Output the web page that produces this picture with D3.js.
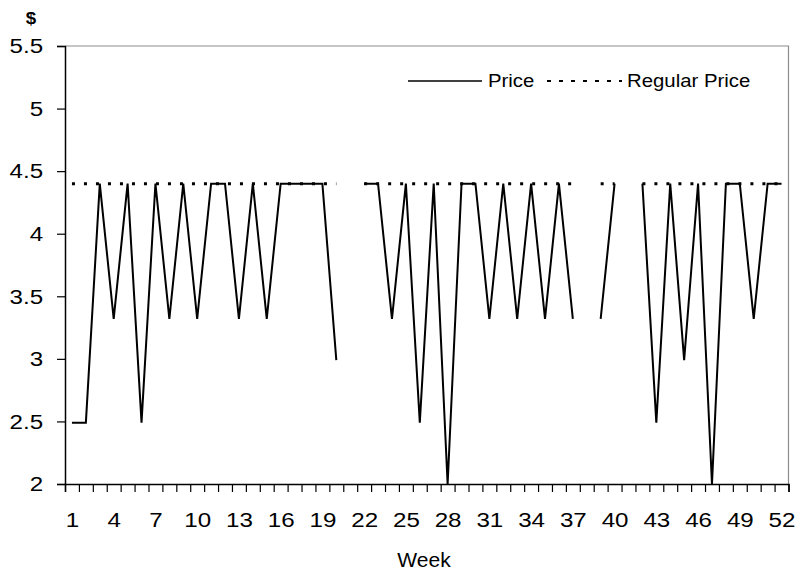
<!DOCTYPE html>
<html>
<head>
<meta charset="utf-8">
<script src="https://cdn.jsdelivr.net/npm/d3@7"></script>
<style>
  body { margin: 0; background: #fff; }
  svg { display: block; font-family: "Liberation Sans", Arial, sans-serif; }
</style>
</head>
<body>
<svg id="chart" width="796" height="575"></svg>
<script>
// weekly prices, null = no observation that week
const weeks = d3.range(1, 53);
const price = [2.49, 2.49, 4.4, 3.32, 4.4, 2.49, 4.4, 3.32, 4.4, 3.32,
  4.4, 4.4, 3.32, 4.4, 3.32, 4.4, 4.4, 4.4, 4.4, 2.99,
  null, 4.4, 4.4, 3.32, 4.4, 2.49, 4.4, 2.0, 4.4, 4.4,
  3.32, 4.4, 3.32, 4.4, 3.32, 4.4, 3.32, null, 3.32, 4.4,
  null, 4.4, 2.49, 4.4, 2.99, 4.4, 2.0, 4.4, 4.4, 3.32,
  4.4, 4.4];
const regularPrice = [4.4, 4.4, 4.4, 4.4, 4.4, 4.4, 4.4, 4.4, 4.4, 4.4,
  4.4, 4.4, 4.4, 4.4, 4.4, 4.4, 4.4, 4.4, 4.4, 4.4,
  null, 4.4, 4.4, 4.4, 4.4, 4.4, 4.4, 4.4, 4.4, 4.4,
  4.4, 4.4, 4.4, 4.4, 4.4, 4.4, 4.4, null, 4.4, 4.4,
  null, 4.4, 4.4, 4.4, 4.4, 4.4, 4.4, 4.4, 4.4, 4.4,
  4.4, 4.4];
const weekLabels = [1, 4, 7, 10, 13, 16, 19, 22, 25, 28, 31, 34, 37, 40, 43, 46, 49, 52];
const yTicks = [2, 2.5, 3, 3.5, 4, 4.5, 5, 5.5];

const svg = d3.select("#chart");
const plotL = 65, plotR = 788.5, plotT = 46, plotB = 484;
const sx = 1.15; // text in the original is a bit wider than tall

// categories sit between tick marks, like a category axis
const x = d3.scaleLinear().domain([0.5, 52.5]).range([plotL, plotR]);
const y = d3.scaleLinear().domain([2, 5.5]).range([plotB, plotT]);

// grey frame on top/right
svg.append("path")
  .attr("d", `M${plotL},${plotT}H${plotR}V${plotB}`)
  .attr("fill", "none")
  .attr("stroke", "#8c8c8c")
  .attr("stroke-width", 1.2);

// y axis
const yAxis = svg.append("g")
  .attr("transform", `translate(${plotL},0)`)
  .call(d3.axisLeft(y).tickValues(yTicks).tickSize(8).tickPadding(11)
    .tickFormat(d3.format("~g")));
yAxis.selectAll("text")
  .attr("font-size", 21)
  .attr("fill", "#000")
  .attr("transform", `scale(${sx},1)`);

// x tick marks at category edges
const xTicks = svg.append("g")
  .attr("transform", `translate(0,${plotB})`)
  .call(d3.axisBottom(x).tickValues(d3.range(0.5, 53, 1)).tickSize(8).tickFormat(""));

// x labels at category centres
const xLabels = svg.append("g")
  .attr("transform", `translate(0,${plotB})`)
  .call(d3.axisBottom(x).tickValues(weekLabels).tickSize(0).tickPadding(28));
xLabels.select(".domain").remove();
xLabels.selectAll("text")
  .attr("font-size", 21)
  .attr("fill", "#000")
  .attr("transform", `scale(${sx},1)`);

[yAxis, xTicks].forEach(g => {
  g.select(".domain").attr("stroke", "#000").attr("stroke-width", 1.5);
  g.selectAll(".tick line").attr("stroke", "#000").attr("stroke-width", 1.2);
});

// lines
const line = d3.line()
  .defined(d => d.v != null)
  .x(d => x(d.w))
  .y(d => y(d.v));

svg.append("path")
  .datum(weeks.map((w, i) => ({ w, v: regularPrice[i] })))
  .attr("d", line)
  .attr("fill", "none")
  .attr("stroke", "#000")
  .attr("stroke-width", 3)
  .attr("stroke-dasharray", "3,9");

svg.append("path")
  .datum(weeks.map((w, i) => ({ w, v: price[i] })))
  .attr("d", line)
  .attr("fill", "none")
  .attr("stroke", "#000")
  .attr("stroke-width", 2)
  .attr("stroke-linejoin", "miter");

// legend
const legend = svg.append("g");
legend.append("line")
  .attr("x1", 408).attr("x2", 482).attr("y1", 81).attr("y2", 81)
  .attr("stroke", "#000").attr("stroke-width", 1.5);
legend.append("text")
  .attr("transform", `translate(488,87) scale(1.1,1)`)
  .attr("font-size", 18.5)
  .text("Price");
legend.append("line")
  .attr("x1", 547).attr("x2", 622).attr("y1", 81).attr("y2", 81)
  .attr("stroke", "#000").attr("stroke-width", 2)
  .attr("stroke-dasharray", "4,8");
legend.append("text")
  .attr("transform", `translate(627,87) scale(1.1,1)`)
  .attr("font-size", 18.5)
  .text("Regular Price");

// axis titles
svg.append("text")
  .attr("transform", `translate(31,24) scale(1.1,1)`)
  .attr("text-anchor", "middle")
  .attr("font-size", 17)
  .attr("font-weight", "bold")
  .text("$");

svg.append("text")
  .attr("transform", `translate(424,567) scale(1.08,1)`)
  .attr("text-anchor", "middle")
  .attr("font-size", 19.5)
  .text("Week");
</script>
</body>
</html>
